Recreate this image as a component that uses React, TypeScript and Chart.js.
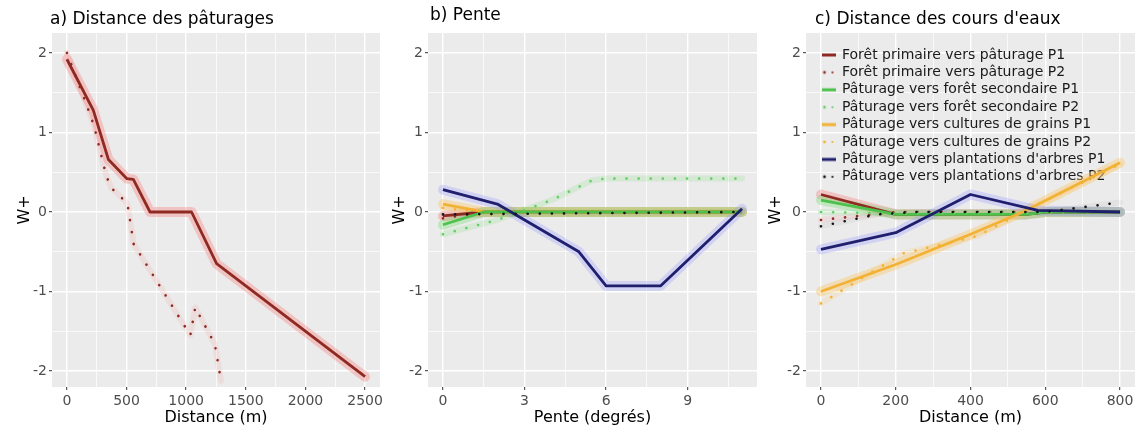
import React, { useEffect, useRef } from 'react';
import { Chart, registerables } from 'chart.js';

Chart.register(...registerables);

const FONT = "'DejaVu Sans', 'Liberation Sans', sans-serif";
Chart.defaults.font.family = FONT;

// ---------- legend labels & styles ----------
const LABELS = [
  'Forêt primaire vers pâturage P1',
  'Forêt primaire vers pâturage P2',
  'Pâturage vers forêt secondaire P1',
  'Pâturage vers forêt secondaire P2',
  'Pâturage vers cultures de grains P1',
  'Pâturage vers cultures de grains P2',
  "Pâturage vers plantations d'arbres P1",
  "Pâturage vers plantations d'arbres P2",
];
const COLORS = ['#8E2A22', '#8E2A22', '#4CC24C', '#66CC66', '#F2B236', '#F2B236', '#1F1F6E', '#141414'];
const HALOS = [
  'rgba(250,120,120,0.35)', 'rgba(250,120,120,0.12)',
  'rgba(110,220,110,0.35)', 'rgba(110,220,110,0.18)',
  'rgba(250,200,110,0.42)', 'rgba(250,200,110,0.18)',
  'rgba(150,150,255,0.30)', 'rgba(150,150,150,0.10)',
];

// ---------- a) Distance des pâturages ----------
const pastureDistP1 = [0, 221, 348, 501, 557, 697, 1045, 1255, 2500];
const pastureWP1 = [1.92, 1.28, 0.66, 0.42, 0.41, 0.0, 0.0, -0.65, -2.07];
const pastureDistP2 = [0, 152, 228, 331, 373, 446, 508, 559, 1035, 1076, 1240, 1292];
const pastureWP2 = [2.0, 1.4, 1.08, 0.45, 0.3, 0.2, 0.1, -0.4, -1.55, -1.2, -1.66, -2.12];
const pastureTicks = [0, 250, 500, 750, 1000, 1250, 1500, 1750, 2000, 2250, 2500];

// ---------- b) Pente ----------
const slopeRedP1X = [0, 1.5, 11];
const slopeRedP1Y = [-0.05, 0, 0];
const slopeRedP2X = [0, 1.5, 11];
const slopeRedP2Y = [-0.08, 0, 0];
const slopeGreenP1X = [0, 1.5, 11];
const slopeGreenP1Y = [-0.16, 0, 0];
const slopeGreenP2X = [0, 2, 4, 5.5, 6, 11];
const slopeGreenP2Y = [-0.28, -0.1, 0.15, 0.4, 0.42, 0.42];
const slopeOrangeP1X = [0, 1.5, 11];
const slopeOrangeP1Y = [0.1, 0, 0];
const slopeOrangeP2X = [0, 1.5, 11];
const slopeOrangeP2Y = [0.05, 0, 0];
const slopeBlueP1X = [0, 2, 5, 6, 8, 11];
const slopeBlueP1Y = [0.28, 0.1, -0.5, -0.93, -0.93, 0.04];
const slopeBlackP2X = [0, 11];
const slopeBlackP2Y = [-0.03, 0];
const slopeTicks = [0, 1.5, 3, 4.5, 6, 7.5, 9, 10.5];

// ---------- c) Distance des cours d'eaux ----------
const riverRedP1X = [0, 200, 550, 600, 800];
const riverRedP1Y = [0.22, -0.03, -0.03, 0, 0];
const riverRedP2X = [0, 200, 800];
const riverRedP2Y = [-0.1, 0, 0];
const riverGreenP1X = [0, 200, 550, 600, 800];
const riverGreenP1Y = [0.15, -0.03, -0.03, 0, 0];
const riverGreenP2X = [0, 200, 800];
const riverGreenP2Y = [0.0, -0.02, 0];
const riverOrangeP1X = [0, 200, 400, 540, 800];
const riverOrangeP1Y = [-1.0, -0.66, -0.28, 0.0, 0.62];
const riverOrangeP2X = [0, 120, 220, 420, 560, 800];
const riverOrangeP2Y = [-1.15, -0.8, -0.52, -0.3, 0.05, 0.6];
const riverBlueP1X = [0, 200, 400, 580, 800];
const riverBlueP1Y = [-0.47, -0.26, 0.22, 0.02, 0];
const riverBlackP2X = [0, 150, 250, 600, 800];
const riverBlackP2Y = [-0.18, -0.03, 0, 0, 0.12];
const riverTicks = [0, 100, 200, 300, 400, 500, 600, 700, 800];

const wTicks = [-2, -1.5, -1, -0.5, 0, 0.5, 1, 1.5, 2];

type Series = { idx: number; x: number[]; y: number[]; layer?: number };

function makeDatasets(series: Series[]) {
  const lines = series.map((s) => {
    const dotted = s.idx % 2 === 1;
    const layer = s.layer ?? s.idx;
    return {
      label: LABELS[s.idx],
      data: s.x.map((x, k) => ({ x, y: s.y[k] })),
      borderColor: COLORS[s.idx],
      backgroundColor: COLORS[s.idx],
      borderWidth: dotted ? 2.6 : 2.8,
      borderDash: dotted ? [0.1, 12] : [],
      borderCapStyle: dotted ? 'round' : 'butt',
      borderJoinStyle: 'round',
      pointRadius: 0,
      pointHoverRadius: 0,
      fill: false,
      tension: 0,
      order: 50 - layer,
      seriesIdx: s.idx,
    };
  });
  const halos = series.map((s) => {
    const dotted = s.idx % 2 === 1;
    const layer = s.layer ?? s.idx;
    return {
      label: '__' + LABELS[s.idx],
      data: s.x.map((x, k) => ({ x, y: s.y[k] })),
      borderColor: HALOS[s.idx],
      backgroundColor: HALOS[s.idx],
      borderWidth: dotted ? 6 : 10,
      borderCapStyle: 'round',
      borderJoinStyle: 'round',
      pointRadius: 0,
      pointHoverRadius: 0,
      fill: false,
      tension: 0,
      order: 100 - layer,
    };
  });
  return [...lines, ...halos];
}

// small legend key images: solid bar for P1, two dots for P2
function legendKey(idx: number): HTMLCanvasElement {
  const c = document.createElement('canvas');
  c.width = 14;
  c.height = 6;
  const g = c.getContext('2d')!;
  g.fillStyle = COLORS[idx];
  if (idx % 2 === 0) {
    g.fillRect(0, 1.5, 14, 3);
  } else {
    g.beginPath();
    g.arc(3, 3, 1.4, 0, Math.PI * 2);
    g.arc(11, 3, 1.1, 0, Math.PI * 2);
    g.fill();
  }
  return c;
}

const isMajorOf = (step: number) => (v: number) => Math.abs(v / step - Math.round(v / step)) < 1e-6;

function axisGrid(step: number) {
  const isMajor = isMajorOf(step);
  return {
    color: '#FFFFFF',
    lineWidth: (ctx: any) => (ctx.tick && isMajor(ctx.tick.value) ? 1.4 : 0.7),
    tickColor: (ctx: any) => (ctx.tick && isMajor(ctx.tick.value) ? '#333333' : 'rgba(0,0,0,0)'),
    tickLength: 3,
    tickWidth: 1,
    drawTicks: true,
    drawOnChartArea: true,
  };
}

const bgPlugin = {
  id: 'panelBg',
  beforeDraw(chart: any) {
    const { ctx, chartArea } = chart;
    ctx.save();
    ctx.fillStyle = '#EBEBEB';
    ctx.fillRect(chartArea.left, chartArea.top, chartArea.right - chartArea.left, chartArea.bottom - chartArea.top);
    ctx.restore();
  },
};

function titlePlugin(text: string, x: number, y: number) {
  return {
    id: 'panelTitle',
    afterDraw(chart: any) {
      const ctx = chart.ctx;
      ctx.save();
      ctx.font = `17px ${FONT}`;
      ctx.fillStyle = '#000000';
      ctx.textAlign = 'left';
      ctx.textBaseline = 'middle';
      ctx.fillText(text, x, y);
      ctx.restore();
    },
  };
}

const legendShift = {
  id: 'legendShift',
  afterLayout(chart: any) {
    const lg = chart.legend;
    if (!lg || !lg.options.display) return;
    const ca = chart.chartArea;
    lg.left = ca.left + 12.6;
    lg.right = lg.left + lg.width;
    lg.top = ca.top + 11.6;
    lg.bottom = lg.top + lg.height;
  },
};

type PanelOpts = {
  series: Series[];
  xMin: number;
  xMax: number;
  xTicks: number[];
  xMajor: number;
  xTitle: string;
  yAxisWidth: number;
  yTitlePad: number;
  padRight: number;
  title: string;
  titleX: number;
  titleY: number;
  legend: boolean;
};

function buildConfig(p: PanelOpts): any {
  const xMajor = isMajorOf(p.xMajor);
  const yMajor = isMajorOf(1);
  const keys = LABELS.map((_, i) => legendKey(i));
  return {
    type: 'line',
    data: { datasets: makeDatasets(p.series) },
    options: {
      responsive: false,
      animation: false,
      devicePixelRatio: 1,
      events: [],
      layout: { padding: { top: 33, left: 0, right: p.padRight, bottom: 0 } },
      scales: {
        x: {
          type: 'linear',
          min: p.xMin,
          max: p.xMax,
          afterBuildTicks: (sc: any) => {
            sc.ticks = p.xTicks.map((v) => ({ value: v }));
          },
          afterFit: (sc: any) => {
            sc.height = 41;
            sc.paddingLeft = 0;
            sc.paddingRight = 0;
          },
          ticks: {
            autoSkip: false,
            maxRotation: 0,
            minRotation: 0,
            padding: 3,
            color: '#4D4D4D',
            font: { size: 14 },
            callback: (v: number) => (xMajor(v) ? String(v) : ''),
          },
          grid: axisGrid(p.xMajor),
          border: { display: false },
          title: {
            display: true,
            text: p.xTitle,
            color: '#000000',
            font: { size: 16 },
            padding: { top: 0, bottom: 0.4 },
          },
        },
        y: {
          type: 'linear',
          min: -2.2,
          max: 2.25,
          afterBuildTicks: (sc: any) => {
            sc.ticks = wTicks.map((v) => ({ value: v }));
          },
          afterFit: (sc: any) => {
            sc.width = p.yAxisWidth;
            sc.paddingTop = 0;
            sc.paddingBottom = 0;
          },
          ticks: {
            autoSkip: false,
            padding: 2,
            color: '#4D4D4D',
            font: { size: 14 },
            callback: (v: number) => (yMajor(v) ? String(v) : ''),
          },
          grid: axisGrid(1),
          border: { display: false },
          title: {
            display: true,
            text: 'W+',
            color: '#000000',
            font: { size: 16 },
            padding: { top: p.yTitlePad, bottom: 0 },
          },
        },
      },
      plugins: {
        tooltip: { enabled: false },
        title: { display: false },
        legend: p.legend
          ? {
              display: true,
              position: 'chartArea',
              align: 'start',
              labels: {
                generateLabels: (chart: any) => {
                  const base = Chart.defaults.plugins.legend.labels.generateLabels(chart);
                  return base.map((it: any) => {
                    const ds: any = chart.data.datasets[it.datasetIndex];
                    const si = ds && typeof ds.seriesIdx === 'number' ? ds.seriesIdx : 0;
                    return { ...it, pointStyle: keys[si] };
                  });
                },
                filter: (item: any) => !String(item.text).startsWith('__'),
                sort: (a: any, b: any) => a.datasetIndex - b.datasetIndex,
                usePointStyle: true,
                pointStyleWidth: 13,
                boxWidth: 13,
                boxHeight: 12,
                padding: 3.4,
                color: '#1A1A1A',
                font: { size: 14 },
              },
            }
          : { display: false },
      },
    },
    plugins: [bgPlugin, titlePlugin(p.title, p.titleX, p.titleY), legendShift],
  };
}

function Panel({ left, width, opts }: { left: number; width: number; opts: PanelOpts }) {
  const ref = useRef<HTMLCanvasElement | null>(null);
  useEffect(() => {
    if (!ref.current) return;
    const chart = new Chart(ref.current, buildConfig(opts));
    return () => chart.destroy();
  }, []);
  return (
    <canvas
      ref={ref}
      width={width}
      height={428}
      style={{ position: 'absolute', left, top: 0, width, height: 428 }}
    />
  );
}

const panelA: PanelOpts = {
  series: [
    { idx: 0, x: pastureDistP1, y: pastureWP1 },
    { idx: 1, x: pastureDistP2, y: pastureWP2 },
  ],
  xMin: -125,
  xMax: 2625,
  xTicks: pastureTicks,
  xMajor: 500,
  xTitle: 'Distance (m)',
  yAxisWidth: 52,
  yTitlePad: 15.4,
  padRight: 20,
  title: 'a) Distance des pâturages',
  titleX: 50,
  titleY: 20,
  legend: false,
};

const panelB: PanelOpts = {
  series: [
    { idx: 0, x: slopeRedP1X, y: slopeRedP1Y },
    { idx: 1, x: slopeRedP2X, y: slopeRedP2Y },
    { idx: 2, x: slopeGreenP1X, y: slopeGreenP1Y, layer: 2.5 },
    { idx: 3, x: slopeGreenP2X, y: slopeGreenP2Y },
    { idx: 4, x: slopeOrangeP1X, y: slopeOrangeP1Y, layer: 1.5 },
    { idx: 5, x: slopeOrangeP2X, y: slopeOrangeP2Y, layer: 1.6 },
    { idx: 6, x: slopeBlueP1X, y: slopeBlueP1Y },
    { idx: 7, x: slopeBlackP2X, y: slopeBlackP2Y },
  ],
  xMin: -0.55,
  xMax: 11.55,
  xTicks: slopeTicks,
  xMajor: 3,
  xTitle: 'Pente (degrés)',
  yAxisWidth: 48,
  yTitlePad: 10.4,
  padRight: 3,
  title: 'b) Pente',
  titleX: 50,
  titleY: 16,
  legend: false,
};

const panelC: PanelOpts = {
  series: [
    { idx: 0, x: riverRedP1X, y: riverRedP1Y },
    { idx: 1, x: riverRedP2X, y: riverRedP2Y },
    { idx: 2, x: riverGreenP1X, y: riverGreenP1Y },
    { idx: 3, x: riverGreenP2X, y: riverGreenP2Y },
    { idx: 4, x: riverOrangeP1X, y: riverOrangeP1Y },
    { idx: 5, x: riverOrangeP2X, y: riverOrangeP2Y },
    { idx: 6, x: riverBlueP1X, y: riverBlueP1Y },
    { idx: 7, x: riverBlackP2X, y: riverBlackP2Y },
  ],
  xMin: -40,
  xMax: 840,
  xTicks: riverTicks,
  xMajor: 200,
  xTitle: 'Distance (m)',
  yAxisWidth: 46,
  yTitlePad: 6.4,
  padRight: 0,
  title: "c) Distance des cours d'eaux",
  titleX: 55,
  titleY: 20,
  legend: true,
};

export default function App() {
  return (
    <div style={{ position: 'absolute', left: 0, top: 0, width: 1135, height: 428, background: '#FFFFFF', overflow: 'hidden' }}>
      <Panel left={0} width={400} opts={panelA} />
      <Panel left={380} width={380} opts={panelB} />
      <Panel left={760} width={375} opts={panelC} />
    </div>
  );
}
